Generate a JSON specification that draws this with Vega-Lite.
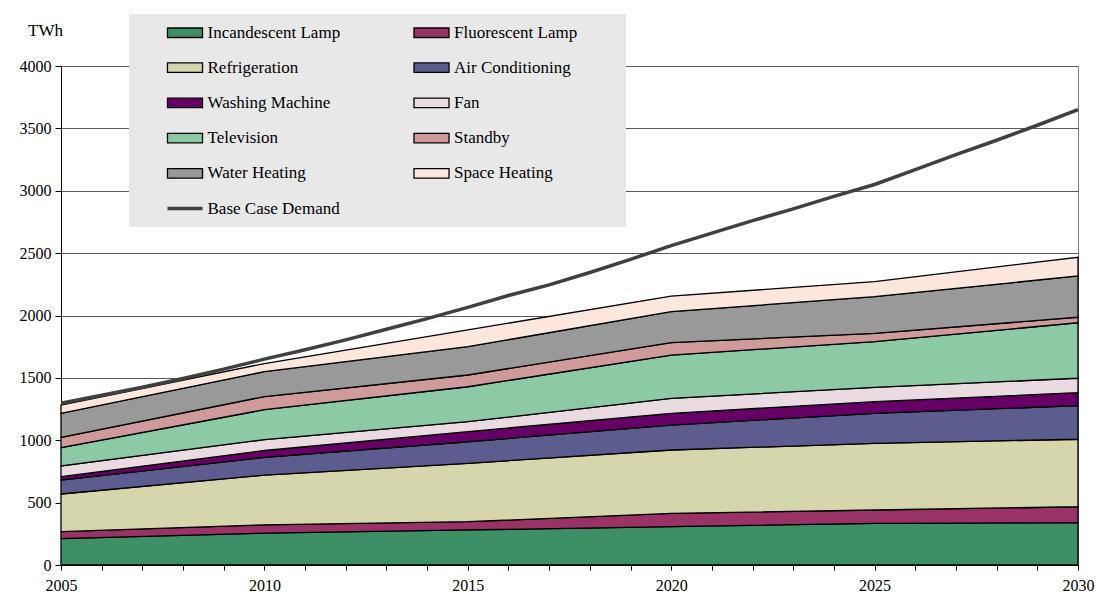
{
  "$schema": "https://vega.github.io/schema/vega-lite/v6.json",
  "width": 1017,
  "height": 499,
  "autosize": {"type": "none"},
  "padding": {"left": 61, "top": 66, "right": 23, "bottom": 40},
  "background": "white",
  "config": {
    "view": {"stroke": "#808080", "strokeWidth": 1},
    "font": "Liberation Serif"
  },
  "datasets": {
    "uses": [
      {"year": 2005, "Incandescent Lamp": 211, "Fluorescent Lamp": 56, "Refrigeration": 302, "Air Conditioning": 112, "Washing Machine": 27, "Fan": 86, "Television": 146, "Standby": 83, "Water Heating": 193, "Space Heating": 65},
      {"year": 2010, "Incandescent Lamp": 255, "Fluorescent Lamp": 67, "Refrigeration": 398, "Air Conditioning": 142, "Washing Machine": 56, "Fan": 87, "Television": 240, "Standby": 105, "Water Heating": 200, "Space Heating": 65},
      {"year": 2015, "Incandescent Lamp": 281, "Fluorescent Lamp": 66, "Refrigeration": 468, "Air Conditioning": 173, "Washing Machine": 81, "Fan": 80, "Television": 280, "Standby": 94, "Water Heating": 227, "Space Heating": 134},
      {"year": 2020, "Incandescent Lamp": 307, "Fluorescent Lamp": 107, "Refrigeration": 508, "Air Conditioning": 200, "Washing Machine": 94, "Fan": 120, "Television": 347, "Standby": 100, "Water Heating": 248, "Space Heating": 125},
      {"year": 2025, "Incandescent Lamp": 334, "Fluorescent Lamp": 107, "Refrigeration": 534, "Air Conditioning": 241, "Washing Machine": 93, "Fan": 115, "Television": 366, "Standby": 67, "Water Heating": 294, "Space Heating": 120},
      {"year": 2030, "Incandescent Lamp": 339, "Fluorescent Lamp": 128, "Refrigeration": 541, "Air Conditioning": 269, "Washing Machine": 104, "Fan": 116, "Television": 445, "Standby": 44, "Water Heating": 331, "Space Heating": 150}
    ],
    "demand": [
      {"year": 2005, "value": 1296}, {"year": 2006, "value": 1360}, {"year": 2007, "value": 1425},
      {"year": 2008, "value": 1495}, {"year": 2009, "value": 1570}, {"year": 2010, "value": 1650},
      {"year": 2011, "value": 1725}, {"year": 2012, "value": 1805}, {"year": 2013, "value": 1890},
      {"year": 2014, "value": 1975}, {"year": 2015, "value": 2065}, {"year": 2016, "value": 2160},
      {"year": 2017, "value": 2245}, {"year": 2018, "value": 2345}, {"year": 2019, "value": 2450},
      {"year": 2020, "value": 2560}, {"year": 2021, "value": 2660}, {"year": 2022, "value": 2760},
      {"year": 2023, "value": 2855}, {"year": 2024, "value": 2955}, {"year": 2025, "value": 3050},
      {"year": 2026, "value": 3170}, {"year": 2027, "value": 3290}, {"year": 2028, "value": 3405},
      {"year": 2029, "value": 3525}, {"year": 2030, "value": 3650}
    ]
  },
  "layer": [
    {
      "data": {"name": "uses"},
      "transform": [
        {"fold": ["Incandescent Lamp", "Fluorescent Lamp", "Refrigeration", "Air Conditioning", "Washing Machine", "Fan", "Television", "Standby", "Water Heating", "Space Heating"], "as": ["series", "value"]},
        {"calculate": "indexof(['Incandescent Lamp', 'Fluorescent Lamp', 'Refrigeration', 'Air Conditioning', 'Washing Machine', 'Fan', 'Television', 'Standby', 'Water Heating', 'Space Heating'], datum.series)", "as": "k"}
      ],
      "mark": {"type": "area", "stroke": "black", "strokeWidth": 1.3, "interpolate": "linear", "opacity": 1},
      "encoding": {
        "x": {
          "field": "year", "type": "quantitative",
          "scale": {"domain": [2005, 2030], "nice": false, "zero": false},
          "axis": {
            "values": [2005, 2006, 2007, 2008, 2009, 2010, 2011, 2012, 2013, 2014, 2015, 2016, 2017, 2018, 2019, 2020, 2021, 2022, 2023, 2024, 2025, 2026, 2027, 2028, 2029, 2030],
            "format": "d",
            "labelExpr": "datum.value % 5 === 0 ? datum.label : ''",
            "labelOverlap": false,
            "labelFlush": false,
            "tickSize": 5,
            "grid": false,
            "domainColor": "black",
            "tickColor": "black",
            "labelFont": "Liberation Serif",
            "labelFontSize": 16,
            "labelColor": "black",
            "labelPadding": 7,
            "title": null
          }
        },
        "y": {
          "field": "value", "type": "quantitative", "stack": "zero",
          "scale": {"domain": [0, 4000], "nice": false},
          "axis": {
            "values": [0, 500, 1000, 1500, 2000, 2500, 3000, 3500, 4000],
            "format": "d",
            "tickSize": 6,
            "grid": true,
            "gridColor": "#5a5a5a",
            "gridWidth": 1,
            "domainColor": "black",
            "tickColor": "black",
            "labelFont": "Liberation Serif",
            "labelFontSize": 16,
            "labelColor": "black",
            "labelPadding": 4,
            "title": "TWh",
            "titleAngle": 0,
            "titleX": -16,
            "titleY": -36,
            "titleAlign": "center",
            "titleBaseline": "middle",
            "titleFont": "Liberation Serif",
            "titleFontSize": 17,
            "titleFontWeight": "normal",
            "titleColor": "black"
          }
        },
        "color": {
          "field": "series", "type": "nominal",
          "scale": {
            "domain": ["Incandescent Lamp", "Fluorescent Lamp", "Refrigeration", "Air Conditioning", "Washing Machine", "Fan", "Television", "Standby", "Water Heating", "Space Heating", "Base Case Demand"],
            "range": ["#3d8f66", "#993366", "#d6d6ac", "#5c5c8f", "#660066", "#eadbe3", "#8ccaa6", "#cf9a9a", "#999999", "#fde6dc", "#404040"]
          },
          "legend": {
            "orient": "none",
            "direction": "horizontal",
            "legendX": 68,
            "legendY": -52,
            "columns": 2,
            "gridAlign": "each",
            "padding": 10,
            "fillColor": "#e8e8e8",
            "strokeColor": null,
            "title": "\u00a0",
            "titleOrient": "left",
            "titlePadding": 28.5,
            "titleFontSize": 17,
            "symbolSize": 289,
            "symbolOffset": 9,
            "labelOffset": 14,
            "rowPadding": 17.2,
            "columnPadding": 70.5,
            "symbolOpacity": 1,
            "symbolType": {"expr": "datum.value === 'Base Case Demand' ? 'M-2.06,0H2.06' : 'M-2.06,-0.56H2.06V0.56H-2.06Z'"},
            "symbolStrokeColor": {"expr": "datum.value === 'Base Case Demand' ? '#404040' : 'black'"},
            "symbolStrokeWidth": {"expr": "datum.value === 'Base Case Demand' ? 3.5 : 1.3"},
            "labelFont": "Liberation Serif",
            "labelFontSize": 17,
            "labelColor": "black",
            "labelLimit": 400,
            "labelExpr": "datum.label === 'Fluorescent Lamp' ? datum.label + '\u00a0\u00a0\u00a0\u00a0\u00a0\u00a0\u00a0\u00a0\u00a0\u200b' : datum.label"
          }
        },
        "order": {"field": "k", "type": "quantitative"}
      }
    },
    {
      "data": {"name": "demand"},
      "mark": {"type": "line", "strokeWidth": 3.5, "color": "#404040"},
      "encoding": {
        "x": {"field": "year", "type": "quantitative"},
        "y": {"field": "value", "type": "quantitative"}
      }
    }
  ]
}
